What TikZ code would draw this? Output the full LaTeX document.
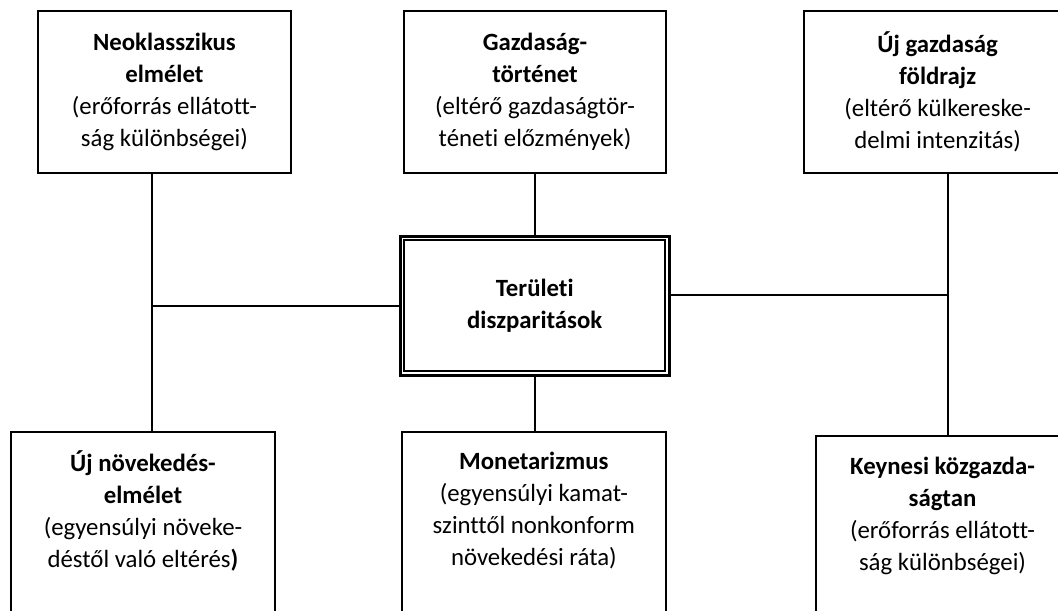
\documentclass[tikz,border=0pt]{standalone}
\usepackage{fontspec}
\setmainfont{Carlito}[Ligatures={NoCommon,NoRequired,NoContextual}]
\begin{document}
\begin{tikzpicture}[x=0.75pt,y=-0.75pt,
  every node/.style={outer sep=0pt},
  box/.style={draw, line width=1.5pt, inner sep=0pt},
  txt/.style={align=center, font=\fontsize{18.6}{24}\selectfont, inner sep=0pt},
  link/.style={line width=1.5pt}]
\useasboundingbox (0,0) rectangle (1058,611);
\clip (0,0) rectangle (1058,611);
% top boxes
\node[box, txt, minimum width=190.35pt, minimum height=121.3pt] (tl) at (164.4,91.85)
  {\textbf{Neoklasszikus}\\\textbf{elmélet}\\(erőforrás ellátott-\\ság különbségei)};
\node[box, txt, minimum width=196.95pt, minimum height=121.3pt] (tm) at (535,91.85)
  {\textbf{Gazdaság-}\\\textbf{történet}\\(eltérő gazdaságtör-\\téneti előzmények)};
\node[box, txt, minimum width=200pt, minimum height=121.3pt] (tr) at (937.65,91.85)
  {\textbf{Új gazdaság}\\\textbf{földrajz}\\(eltérő külkereske-\\delmi intenzitás)};
% centre box
\node[draw, line width=2.25pt, txt, minimum width=202.1pt, minimum height=104.25pt] (c) at (534.75,305.5)
  {\textbf{Területi}\\\textbf{diszparitások}};
\draw[line width=1.5pt] ([shift={(4,4)}]c.north west) rectangle ([shift={(-4.5,-4.5)}]c.south east);
% bottom boxes
\node[box, minimum width=198pt, minimum height=171.2pt] (bl) at (143,545.85) {};
\node[txt] (blt) at (143,511)
  {\textbf{Új növekedés-}\\\textbf{elmélet}\\(egyensúlyi növeke-\\déstől való eltérés\textbf{)}};
\node[box, minimum width=198.2pt, minimum height=171.2pt] (bm) at (533.85,545.85) {};
\node[txt] (bmt) at (533.85,510.5)
  {\textbf{Monetarizmus}\\(egyensúlyi kamat-\\szinttől nonkonform\\növekedési ráta)};
\node[box, minimum width=189.75pt, minimum height=168pt] (br) at (942.5,548) {};
\node[txt] (brt) at (942.5,515.75)
  {\textbf{Keynesi közgazda-}\\\textbf{ságtan}\\(erőforrás ellátott-\\ság különbségei)};
% connectors
\coordinate (jl) at (152,306);
\coordinate (jr) at (948,295);
\draw[link] (tl.south -| jl) -- (bl.north -| jl);
\draw[link] (jl) -- (c.west |- jl);
\draw[link] (tm.south) -- (tm.south |- c.north);
\draw[link] (c.south) -- (c.south |- bm.north);
\draw[link] (tr.south -| jr) -- (br.north -| jr);
\draw[link] (jr) -- (c.east |- jr);
\end{tikzpicture}
\end{document}
